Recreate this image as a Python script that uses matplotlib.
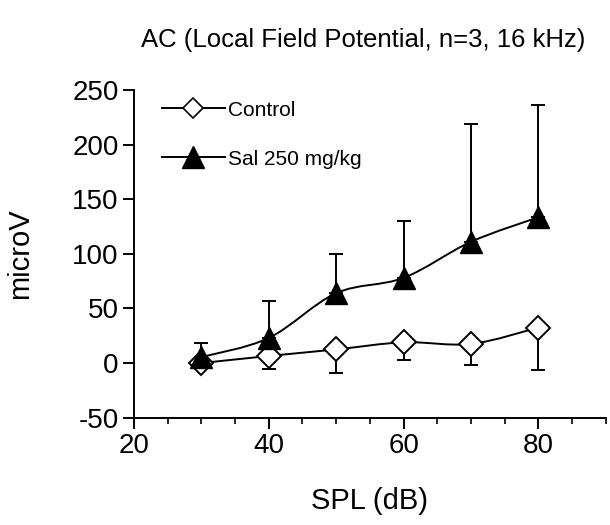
import numpy as np
import matplotlib
matplotlib.use("Agg")
import matplotlib.pyplot as plt
from matplotlib.path import Path
from matplotlib.patches import PathPatch
from matplotlib.lines import Line2D
from matplotlib.ticker import MultipleLocator

plt.rcParams['font.family'] = ['Liberation Sans', 'DejaVu Sans']
plt.rcParams['axes.unicode_minus'] = False

spl = [30, 40, 50, 60, 70, 80]
control = [0, 6.5, 12.5, 19, 17.5, 32.5]
control_err = [3, 11.5, 22, 16, 19, 39]
sal = [5.5, 23, 64, 78, 111, 133.5]
sal_err = [12.5, 34, 36, 52.5, 108, 103]

title = "AC (Local Field Potential, n=3, 16 kHz)"
xlabel = "SPL (dB)"
ylabel = "microV"
labels = ["Control", "Sal 250 mg/kg"]


def smooth_path(x, y):
    x = np.asarray(x, float)
    y = np.asarray(y, float)
    verts = [(x[0], y[0])]
    codes = [Path.MOVETO]
    n = len(x)
    for i in range(n - 1):
        p0 = (x[i - 1], y[i - 1]) if i > 0 else (x[i], y[i])
        p1 = (x[i], y[i])
        p2 = (x[i + 1], y[i + 1])
        p3 = (x[i + 2], y[i + 2]) if i + 2 < n else (x[i + 1], y[i + 1])
        c1 = (p1[0] + (p2[0] - p0[0]) / 6, p1[1] + (p2[1] - p0[1]) / 6)
        c2 = (p2[0] - (p3[0] - p1[0]) / 6, p2[1] - (p3[1] - p1[1]) / 6)
        verts += [c1, c2, p2]
        codes += [Path.CURVE4] * 3
    return Path(verts, codes)


fig = plt.figure(figsize=(6.1, 5.25), dpi=100)
ax = fig.add_axes([0.2197, 0.2044, 0.7733, 0.6242])

lw = 1.4
# error bars: control lower only, sal upper only
ax.errorbar(spl, control, yerr=[control_err, [0] * len(spl)], fmt='none',
            ecolor='black', elinewidth=lw, capsize=4.7, capthick=lw, zorder=2)
ax.errorbar(spl, sal, yerr=[[0] * len(spl), sal_err], fmt='none',
            ecolor='black', elinewidth=lw, capsize=4.7, capthick=lw, zorder=2)

ax.add_patch(PathPatch(smooth_path(spl, control), facecolor='none',
                       edgecolor='black', lw=lw, zorder=3))
ax.add_patch(PathPatch(smooth_path(spl, sal), facecolor='none',
                       edgecolor='black', lw=lw, zorder=3))

ax.plot(spl, control, linestyle='none', marker='D', ms=12, mfc='white',
        mec='black', mew=1.4, zorder=4)
ax.plot(spl, sal, linestyle='none', marker='^', ms=16, mfc='black',
        mec='black', zorder=5)

ax.set_xlim(20, 90)
ax.set_ylim(-50, 250)
ax.xaxis.set_major_locator(MultipleLocator(20))
ax.xaxis.set_minor_locator(MultipleLocator(5))
ax.yaxis.set_major_locator(MultipleLocator(50))
for s in ['top', 'right']:
    ax.spines[s].set_visible(False)
for s in ['left', 'bottom']:
    ax.spines[s].set_linewidth(1.4)
ax.tick_params(axis='both', which='major', direction='out', length=8,
               width=1.4, labelsize=20, pad=3)
ax.tick_params(axis='x', which='minor', direction='out', length=4, width=1.2)
ax.set_xlabel(xlabel, fontsize=21, labelpad=20)
ax.set_ylabel(ylabel, fontsize=21)
ax.yaxis.set_label_coords(-0.212, 0.5)

handles = [
    Line2D([], [], color='black', lw=lw, marker='D', ms=10, mfc='white',
           mec='black', mew=1.2),
    Line2D([], [], color='black', lw=lw, marker='^', ms=16, mfc='black'),
]
ax.legend(handles, labels, loc='upper left', bbox_to_anchor=(0.02, 1.025),
          frameon=False, fontsize=15, handlelength=3.0, handletextpad=0.15,
          labelspacing=1.45)

fig.text(0.595, 0.923, title, ha='center', va='center', fontsize=18.5)

fig.savefig("out.png", dpi=100)
